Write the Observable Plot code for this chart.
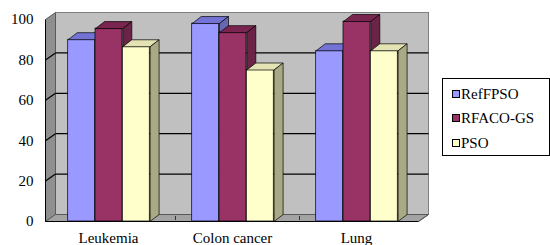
<!DOCTYPE html>
<html>
<head>
<meta charset="utf-8">
<script src="https://cdn.jsdelivr.net/npm/d3@7"></script>
<script src="https://cdn.jsdelivr.net/npm/@observablehq/plot@0.6"></script>
<style>
  html, body { margin: 0; padding: 0; background: #fff; }
  #wrap { position: relative; width: 550px; height: 245px; font-family: "Liberation Serif", "DejaVu Serif", serif; }
  #wrap svg text { font-family: "Liberation Serif", "DejaVu Serif", serif !important; }
  #legend { position: absolute; left: 442px; top: 78px; width: 106px; height: 76px; border: 1px solid #000; background: #fff; }
  .item { position: absolute; left: 9px; font-size: 15px; line-height: 16px; display: flex; align-items: center; white-space: nowrap; }
  .sw { width: 6px; height: 6px; border: 1px solid #000; margin-right: 1px; }
</style>
</head>
<body>
<div id="wrap"><div id="legend"></div></div>
<script>
// ---- data ----
const categories = ["Leukemia", "Colon cancer", "Lung"];
const series = ["RefFPSO", "RFACO-GS", "PSO"];
const refFPSO = [90, 98, 84.5];
const rfacoGS = [95.5, 93.5, 99];
const pso = [86.5, 75, 84.5];
const yTicks = [0, 20, 40, 60, 80, 100];

// ---- styles ----
const colors = {
  "RefFPSO": {front: "#9999ff", top: "#7373d6", side: "#6868b0"},
  "RFACO-GS": {front: "#993366", top: "#7a2450", side: "#6b2447"},
  "PSO": {front: "#ffffcc", top: "#e3e3b4", side: "#a9a986"}
};
const WDX = 10, WDY = -7;   // wall depth (px)
const BDX = 9, BDY = -7;    // bar depth (px)
const GROUP_PAD = 21.7, BAR_W = 27.3;
const FONT = "'Liberation Serif', 'DejaVu Serif', serif";

const valuesBySeries = [refFPSO, rfacoGS, pso];
const table = [];
series.forEach((s, i) => categories.forEach((c, j) => table.push({cat: c, series: s, value: valuesBySeries[i][j]})));

const W = 550, H = 245;
const ML = 45, MR = 132, MT = 19, MB = 24;

function bandW(dims) { return (dims.width - dims.marginLeft - dims.marginRight) / categories.length; }

function insets(i, bw) {
  const l = GROUP_PAD + i * BAR_W;
  return {insetLeft: l, insetRight: bw - l - BAR_W};
}
const BW0 = (W - ML - MR) / categories.length;

function walls(index, scales, values, dims) {
  const {x, y} = scales;
  const x0 = dims.marginLeft, x1 = dims.width - dims.marginRight;
  const yb = y(0), yt = y(100);
  const g = d3.create("svg:g").attr("transform", "translate(0.5,0.5)");
  g.append("rect").attr("x", x0 + WDX).attr("y", yt + WDY).attr("width", x1 - x0).attr("height", yb - yt)
    .attr("fill", "#c0c0c0").attr("stroke", "#7f7f7f");
  g.append("polygon").attr("points", [[x0, yt], [x0 + WDX, yt + WDY], [x0 + WDX, yb + WDY], [x0, yb]].join(" "))
    .attr("fill", "#8f8f8f").attr("stroke", "#5a5a5a");
  g.append("polygon").attr("points", [[x0, yb], [x1, yb], [x1 + WDX, yb + WDY], [x0 + WDX, yb + WDY]].join(" "))
    .attr("fill", "#a3a3a3").attr("stroke", "#5a5a5a");
  for (const t of yTicks.filter(t => t > 0 && t < 100)) {
    g.append("line").attr("x1", x0 + WDX).attr("x2", x1 + WDX).attr("y1", y(t) + WDY).attr("y2", y(t) + WDY)
      .attr("stroke", "#000").attr("stroke-width", 1.2);
    g.append("line").attr("x1", x0).attr("x2", x0 + WDX).attr("y1", y(t)).attr("y2", y(t) + WDY)
      .attr("stroke", "#000").attr("stroke-width", 1.2);
  }
  for (const c of categories.slice(1)) {
    const xx = x(c);
    g.append("line").attr("x1", xx + WDX / 2).attr("x2", xx + WDX / 2).attr("y1", yb + WDY / 2 - 2).attr("y2", yb + WDY / 2 + 2)
      .attr("stroke", "#333");
  }
  g.append("line").attr("x1", x0).attr("x2", x0).attr("y1", yt).attr("y2", yb).attr("stroke", "#000");
  g.append("line").attr("x1", x0).attr("x2", x1).attr("y1", yb).attr("y2", yb).attr("stroke", "#000");
  g.append("line").attr("x1", x1).attr("x2", x1 + WDX).attr("y1", yb).attr("y2", yb + WDY).attr("stroke", "#5a5a5a");
  return g.node();
}

function faces(si) {
  const s = series[si];
  return (index, scales, values, dims) => {
    const {x, y} = scales;
    const g = d3.create("svg:g").attr("transform", "translate(0.5,0.5)");
    const yb = y(0);
    categories.forEach((c, j) => {
      const v = valuesBySeries[si][j];
      const xl = x(c) + GROUP_PAD + si * BAR_W, xr = xl + BAR_W, yv = y(v);
      g.append("polygon").attr("points", [[xl, yv], [xr, yv], [xr + BDX, yv + BDY], [xl + BDX, yv + BDY]].join(" "))
        .attr("fill", colors[s].top).attr("stroke", "#000").attr("stroke-width", 0.7).attr("stroke-linejoin", "round");
      g.append("polygon").attr("points", [[xr, yv], [xr + BDX, yv + BDY], [xr + BDX, yb + BDY], [xr, yb]].join(" "))
        .attr("fill", colors[s].side).attr("stroke", "#000").attr("stroke-width", 0.7).attr("stroke-linejoin", "round");
    });
    return g.node();
  };
}

const marks = [walls];
series.forEach((s, i) => {
  marks.push(Plot.barY(table.filter(d => d.series === s), {
    x: "cat", y: "value", fill: colors[s].front, stroke: "#000", strokeWidth: 0.7,
    ...insets(i, BW0)
  }));
  marks.push(faces(i));
});

const chart = Plot.plot({
  width: W, height: H,
  marginLeft: ML, marginRight: MR, marginTop: MT, marginBottom: MB,
  style: {fontFamily: FONT, fontSize: "15px", color: "#000", background: "transparent", overflow: "visible"},
  x: {type: "band", domain: categories, padding: 0, tickSize: 0, tickPadding: 11, label: null},
  y: {domain: [0, 100], ticks: yTicks, tickSize: 0, tickPadding: 12, label: null},
  marks
});
chart.setAttribute("font-family", FONT);
chart.setAttribute("font-size", "15");
document.getElementById("wrap").prepend(chart);

const legend = document.getElementById("legend");
const tops = [7, 31, 56];
series.forEach((s, i) => {
  const it = document.createElement("div");
  it.className = "item";
  it.style.top = tops[i] + "px";
  it.innerHTML = `<span class="sw" style="background:${colors[s].front}"></span>${s}`;
  legend.appendChild(it);
});
</script>
</body>
</html>
